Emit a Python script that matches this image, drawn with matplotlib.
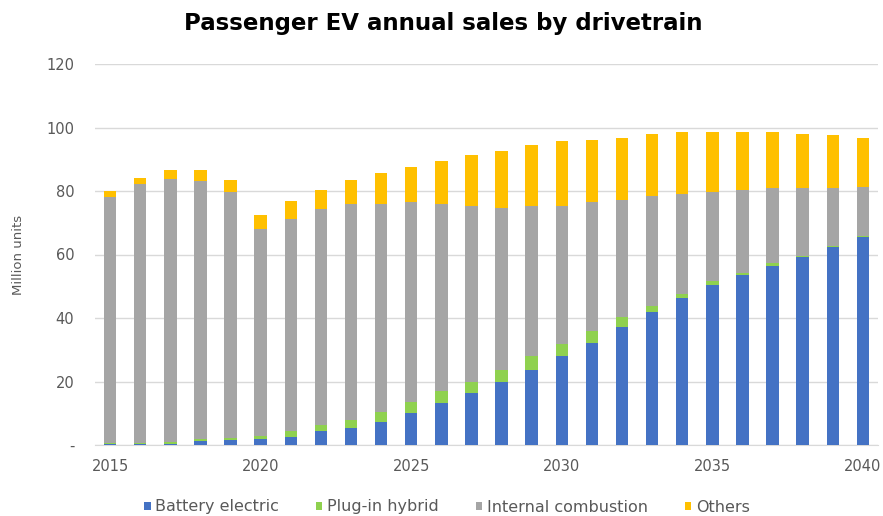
import matplotlib
matplotlib.use("Agg")
import matplotlib.pyplot as plt
from matplotlib.patches import Patch
from matplotlib.ticker import FixedLocator, FuncFormatter
import numpy as np

years = list(range(2015, 2041))
battery_electric = [0.3, 0.4, 0.4, 1.2, 1.5, 1.9, 2.6, 4.4, 5.5, 7.3, 10.0, 13.2, 16.3,
                    20.0, 23.6, 27.9, 32.2, 37.1, 41.9, 46.3, 50.5, 53.5, 56.4, 59.3, 62.5, 65.6]
plug_in_hybrid = [0.2, 0.2, 0.6, 0.8, 0.6, 1.0, 1.9, 1.9, 2.5, 3.1, 3.4, 3.7, 3.7,
                  3.6, 4.4, 3.8, 3.6, 3.2, 1.8, 1.2, 1.0, 0.8, 0.9, 0.3, 0.2, 0.2]
internal_combustion = [77.5, 81.5, 82.8, 81.3, 77.6, 65.0, 66.6, 67.9, 68.0, 65.5, 63.1, 58.9, 55.2,
                       51.1, 47.3, 43.6, 40.7, 36.8, 34.7, 31.4, 28.1, 26.0, 23.5, 21.2, 18.1, 15.5]
others = [2.0, 2.0, 2.7, 3.2, 3.7, 4.4, 5.6, 6.1, 7.4, 9.8, 11.1, 13.6, 16.0,
          17.8, 19.1, 20.3, 19.6, 19.7, 19.6, 19.6, 18.9, 18.2, 17.7, 17.2, 16.7, 15.5]
series_names = ["Battery electric", "Plug-in hybrid", "Internal combustion", "Others"]
colors = ["#4472C4", "#8FD14F", "#A5A5A5", "#FFC000"]
x_tick_years = [2015, 2020, 2025, 2030, 2035, 2040]
y_ticks = [0, 20, 40, 60, 80, 100, 120]

plt.rcParams['font.family'] = ['DejaVu Sans']
text_color = "#595959"

fig = plt.figure(figsize=(8.83, 5.16), dpi=100)
ax = fig.add_axes([95/883, 1 - 445/516, (878-95)/883, (445-64)/516])

x = np.arange(len(years))
bottom = np.zeros(len(years))
for vals, c, name in zip([battery_electric, plug_in_hybrid, internal_combustion, others], colors, series_names):
    ax.bar(x, vals, width=0.415, bottom=bottom, color=c, label=name, zorder=3, linewidth=0)
    bottom = bottom + np.array(vals)

ax.set_xlim(-0.5, len(years) - 0.5)
ax.set_ylim(0, 120)
ax.yaxis.set_major_locator(FixedLocator(y_ticks))
ax.yaxis.set_major_formatter(FuncFormatter(lambda v, p: "-" if v == 0 else f"{int(v)}"))
ax.set_xticks([years.index(y) for y in x_tick_years])
ax.set_xticklabels([str(y) for y in x_tick_years])
ax.grid(axis='y', color="#D9D9D9", linewidth=1.0, zorder=0)
for s in ["top", "right", "left"]:
    ax.spines[s].set_visible(False)
ax.spines["bottom"].set_color("#D9D9D9")
ax.tick_params(axis='both', length=0, colors=text_color, labelsize=10.5)
ax.tick_params(axis='y', pad=15)
ax.tick_params(axis='x', pad=10)
ax.set_ylabel("Million units", color=text_color, fontsize=9.5, labelpad=15)

fig.text(443/883, 1 - 23.5/516, "Passenger EV annual sales by drivetrain",
         ha='center', va='center', fontsize=16.5, fontweight='bold', color='black')

handles = [Patch(facecolor=c, edgecolor='none') for c in colors]
leg = fig.legend(handles, series_names, loc='center', bbox_to_anchor=(447/883, 1 - 507/516),
                 ncol=4, frameon=False, fontsize=11.5, handlelength=0.4, handleheight=0.4,
                 handletextpad=0.3, columnspacing=2.3, borderaxespad=0, borderpad=0)
for t in leg.get_texts():
    t.set_color(text_color)

fig.savefig("out.png", dpi=100)
